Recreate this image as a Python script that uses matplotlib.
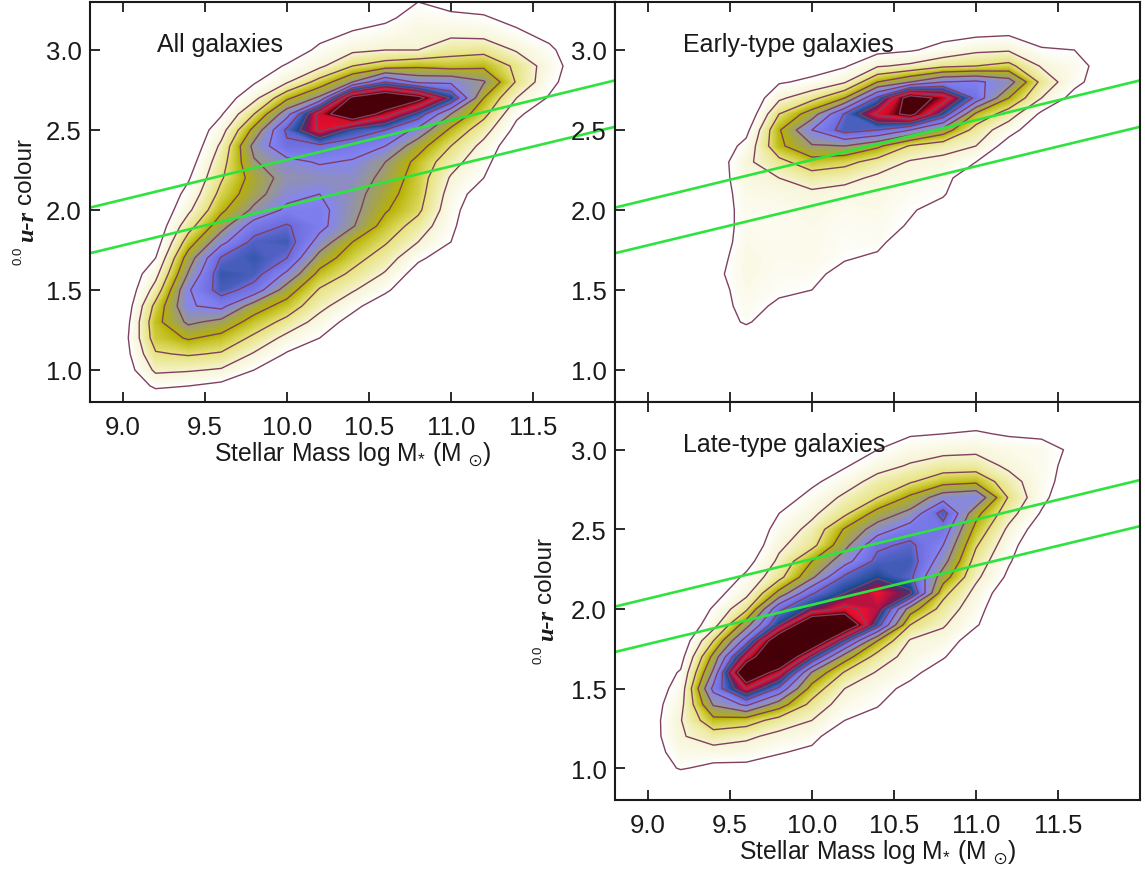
import numpy as np
import matplotlib
matplotlib.use("Agg")
import matplotlib.pyplot as plt
from matplotlib.colors import LinearSegmentedColormap
from matplotlib.ticker import FormatStrFormatter

plt.rcParams['font.family'] = ['Liberation Sans', 'DejaVu Sans']
plt.rcParams['mathtext.fontset'] = 'custom'
plt.rcParams['mathtext.rm'] = 'Liberation Sans'
plt.rcParams['mathtext.default'] = 'regular'

# ---- data ----
mass_grid = [8.8, 9.0, 9.2, 9.4, 9.6, 9.8, 10.0, 10.2, 10.4, 10.6, 10.8, 11.0, 11.2, 11.4, 11.6, 11.8, 12.0]
colour_grid = [0.8, 0.9, 1.0, 1.1, 1.2, 1.3, 1.4, 1.5, 1.6, 1.7, 1.8, 1.9, 2.0, 2.1, 2.2, 2.3, 2.4, 2.5,
               2.6, 2.7, 2.8, 2.9, 3.0, 3.1, 3.2, 3.3]
contour_levels = [1, 2, 3, 4, 5, 6, 7, 8, 9, 10]

# each column: (first colour value on the grid, density values going up in colour)
all_columns = [
    (0.8, []),
    (1.0, [.3, .45, .5, .3, .1]),
    (0.9, [1.2, 2.2, 2.9, 3.5, 3.7, 3.3, 2.4, 1.7, 1.0, .5, .2]),
    (0.8, [.2, 1.0, 2.1, 3.1, 4.1, 5.2, 5.9, 5.9, 5.1, 4.5, 3.5, 2.6, 1.8, 1.3, .9, .5, .1]),
    (0.9, [.7, 1.9, 2.9, 3.7, 4.7, 6.3, 7.4, 7.6, 7.1, 5.7, 4.6, 3.8, 3.3, 2.9, 2.6, 2.2, 1.6, .9, .4]),
    (1.0, [1.0, 1.9, 2.8, 3.6, 4.5, 6.6, 7.4, 7.6, 7.3, 6.5, 5.2, 4.6, 4.4, 4.9, 5.3, 4.3, 3.0, 1.7, .9, .4]),
    (1.1, [.9, 1.7, 2.7, 3.6, 4.5, 5.8, 7.0, 7.5, 7.1, 6.2, 5.7, 5.4, 5.7, 6.8, 7.2, 5.6, 3.8, 1.9, 1.1, .4]),
    (1.2, [1.0, 1.6, 2.3, 2.9, 3.7, 4.6, 5.6, 6.3, 6.3, 6.0, 5.5, 6.1, 6.8, 9.2, 9.4, 5.2, 3.4, 1.8, 1.2, .7, .3]),
    (1.3, [.6, 1.3, 2.1, 2.8, 3.4, 4.0, 5.1, 5.3, 5.4, 5.6, 5.9, 6.5, 7.6, 11.2, 10.4, 5.0, 3.0, 1.8, 1.1, .6, .2]),
    (1.4, [.3, 1.2, 1.9, 2.5, 3.1, 3.6, 4.1, 4.4, 4.7, 5.0, 6.0, 7.0, 9.5, 11.6, 7.0, 3.5, 2.0, 1.4, .8, .3]),
    (1.6, [.5, 1.2, 2.0, 2.6, 3.2, 3.4, 3.5, 3.7, 4.4, 5.7, 7.6, 10.5, 5.8, 3.8, 2.0, 1.7, 1.4, 1.0]),
    (1.7, [.4, 1.0, 1.2, 1.4, 1.6, 1.9, 2.4, 3.0, 3.8, 5.0, 7.9, 5.8, 3.6, 2.6, 1.8, 1.2, .7]),
    (2.1, [.4, 1.0, 1.3, 1.7, 2.4, 3.3, 4.0, 5.1, 3.8, 2.7, 1.7, 1.1, .6]),
    (2.4, [.2, .7, 1.2, 2.0, 2.9, 2.8, 1.9, 1.2, .7, .2]),
    (2.6, [.3, .9, 1.3, 1.5, 1.2, .7, .2]),
    (2.8, [.2, .3, .2]),
    (0.8, []),
]
early_columns = [
    (0.8, []),
    (0.8, []),
    (0.8, []),
    (1.3, [.1, .4, .5, .7, .5, .3, .3, .3, .3, .3, .3, .2]),
    (1.3, [1.2, 1.4, 1.5, 1.6, 1.6, 1.5, 1.4, 1.4, 1.5, 1.7, 1.8, 1.3, .7, .1]),
    (1.4, [.8, 1.2, 1.3, 1.4, 1.4, 1.4, 1.4, 1.6, 2.0, 2.7, 3.8, 3.9, 3.0, 1.8, .9, .3]),
    (1.5, [1.0, 1.3, 1.5, 1.5, 1.5, 1.6, 1.8, 2.5, 3.6, 4.9, 6.0, 4.5, 2.7, 1.2, .6, .1]),
    (1.6, [.6, 1.1, 1.2, 1.3, 1.4, 1.6, 2.3, 3.3, 5.0, 7.4, 7.1, 4.0, 1.9, .9, .3]),
    (1.7, [.8, 1.3, 1.4, 1.5, 1.6, 1.8, 2.6, 4.2, 7.0, 9.2, 7.2, 4.0, 1.9, .7, .2]),
    (1.8, [.2, .9, 1.1, 1.3, 1.5, 1.9, 2.9, 6.0, 10.4, 10.8, 5.0, 2.2, .9, .2]),
    (2.0, [.6, 1.1, 1.3, 1.7, 2.4, 4.6, 7.7, 9.6, 6.0, 2.8, 1.3, .7, .1]),
    (2.2, [.3, 1.0, 2.0, 2.6, 3.8, 6.7, 6.2, 3.0, 1.8, .8, .2]),
    (2.4, [.5, 1.4, 2.5, 4.0, 5.5, 3.3, 1.9, .9, .2]),
    (2.5, [.2, .8, 2.0, 2.7, 1.9, 1.1, .5]),
    (2.7, [.6, 1.3, 1.4, 1.0, .4]),
    (2.8, [.3, .5, .3]),
    (0.8, []),
]
late_columns = [
    (0.8, []),
    (1.0, [.3, .4, .4, .4, .4, .3, .2]),
    (1.0, [1.1, 1.5, 1.9, 1.95, 1.7, 1.4, 1.1, .6, .2]),
    (1.0, [.7, 1.6, 2.5, 3.7, 5.1, 6.3, 5.2, 4.3, 3.0, 1.6, 1.1, .6, .1]),
    (1.0, [.7, 1.5, 2.2, 3.5, 6.2, 9.0, 11.8, 9.0, 6.5, 4.6, 2.8, 1.7, 1.2, .6, .1]),
    (1.0, [.3, 1.1, 1.7, 2.6, 4.5, 6.8, 9.2, 12.5, 11.6, 8.0, 6.8, 4.3, 2.7, 2.2, 1.8, 1.4, 1.0, .5, .1]),
    (1.1, [.7, 1.4, 2.0, 2.7, 3.6, 4.9, 8.0, 12.0, 12.0, 8.2, 6.9, 4.8, 4.0, 2.7, 2.3, 1.8, 1.3, .8, .4]),
    (1.3, [1.0, 1.5, 2.0, 2.9, 4.5, 7.5, 11.8, 9.2, 8.0, 7.2, 5.6, 4.7, 4.1, 2.8, 2.2, 1.5, .9, .5, .2]),
    (1.3, [.5, 1.1, 1.4, 1.9, 2.6, 4.0, 7.5, 8.7, 9.0, 7.9, 7.3, 6.8, 5.5, 4.4, 3.0, 2.4, 1.6, 1.0, .5, .1]),
    (1.5, [.7, 1.3, 1.6, 1.9, 3.0, 4.5, 8.2, 7.2, 7.5, 7.2, 6.5, 5.3, 4.2, 2.9, 2.1, 1.5, .9, .3]),
    (1.6, [.4, 1.1, 1.6, 2.1, 2.6, 3.3, 4.5, 5.4, 6.0, 6.6, 7.4, 5.6, 3.6, 2.5, 1.7, 1.0, .5]),
    (1.8, [.4, 1.1, 1.4, 1.7, 2.2, 2.6, 3.1, 3.7, 4.3, 5.9, 3.8, 2.5, 1.8, 1.1, .6, .1]),
    (2.1, [.3, .8, 1.1, 1.4, 1.8, 2.4, 2.9, 2.4, 1.8, 1.5, .9, .5, .1]),
    (2.5, [.4, .9, 1.3, 1.4, 1.4, 1.4, .8, .2]),
    (2.8, [.4, .6, .8, .3]),
    (0.8, []),
    (0.8, []),
]

green_mass = [8.8, 12.0]
green_upper = [2.015, 2.81]
green_lower = [1.73, 2.52]

mass_ticks = [9.0, 9.5, 10.0, 10.5, 11.0, 11.5]
colour_ticks = [1.0, 1.5, 2.0, 2.5, 3.0]
panel_titles = ["All galaxies", "Early-type galaxies", "Late-type galaxies"]
x_label = r"Stellar Mass log M$_{*}$ (M $_{\odot}$)"


def density_grid(columns):
    grid = np.zeros((len(colour_grid), len(mass_grid)))
    for j, (start, values) in enumerate(columns):
        i0 = int(round((start - colour_grid[0]) * 10))
        grid[i0:i0 + len(values), j] = values
    return grid


stops = [(0.0, '#ffffff'), (1.0, '#ffffff'), (2.0, '#f6f4d4'), (3.0, '#e6e37c'), (4.0, '#b6b200'),
         (5.0, '#9a9a80'), (6.0, '#8484f4'), (7.0, '#6c6cdc'), (8.0, '#14488c'), (8.5, '#8a1450'),
         (9.0, '#f01030'), (9.6, '#c80c28'), (10.0, '#4c0008'), (13.0, '#400008')]
cmap = LinearSegmentedColormap.from_list('gal', [(v / 13.0, c) for v, c in stops], N=1024)

W, H = 1145, 870
fig = plt.figure(figsize=(W / 100, H / 100), dpi=100)


def make_axes(l, t, r, b):
    return fig.add_axes([l / W, 1 - b / H, (r - l) / W, (b - t) / H])


axes = [make_axes(90, 3, 615, 403), make_axes(615, 3, 1140, 403), make_axes(615, 403, 1140, 801)]
grids = [density_grid(all_columns), density_grid(early_columns), density_grid(late_columns)]
fill_levels = np.linspace(0, 13, 261)

for k, (ax, z) in enumerate(zip(axes, grids)):
    ax.contourf(mass_grid, colour_grid, z, levels=fill_levels, cmap=cmap, vmin=0, vmax=13,
                antialiased=False)
    ax.contour(mass_grid, colour_grid, z, levels=contour_levels, colors='#80405f', linewidths=1.0)
    ax.plot(green_mass, green_upper, color='#2fe33f', lw=1.9)
    ax.plot(green_mass, green_lower, color='#2fe33f', lw=1.9)
    ax.set_xlim(8.8, 12.0)
    ax.set_ylim(0.8, 3.3)
    ax.set_xticks(mass_ticks)
    ax.set_yticks(colour_ticks)
    ax.xaxis.set_major_formatter(FormatStrFormatter('%.1f'))
    ax.yaxis.set_major_formatter(FormatStrFormatter('%.1f'))
    ax.tick_params(axis='both', direction='in', length=7.5, width=1.3, labelsize=18.5, colors='#1a1a1a',
                   top=True, right=False)
    ax.tick_params(axis='x', pad=9.5)
    ax.tick_params(axis='y', pad=6)
    for s in ax.spines.values():
        s.set_linewidth(1.5)
        s.set_color('#1a1a1a')
    if k == 1:
        ax.tick_params(labelbottom=False)
    ax.text(0.127 if k == 0 else 0.129, 0.8655 if k < 2 else 0.864, panel_titles[k], transform=ax.transAxes,
            fontsize=18, color='#1a1a1a', va='bottom', ha='left')

for ax in (axes[0], axes[2]):
    ax.set_xlabel(x_label, fontsize=17.8, color='#1a1a1a', labelpad=0.5)

# y axis label pieces: (x px, y px) centres for the two labelled panels
for dx, dy in ((-520, -399), (0, 0)):
    fig.text((545 + dx) / W, 1 - (570 + dy) / H, "colour", rotation=90, fontsize=17.5,
             color='#1a1a1a', ha='center', va='center')
    fig.text((548 + dx) / W, 1 - (625 + dy) / H, "u-r", rotation=90, fontsize=17.5, family='Liberation Serif',
             style='italic', weight='bold', color='#1a1a1a', ha='center', va='center')
    fig.text((539 + dx) / W, 1 - (655 + dy) / H, "0.0", rotation=90, fontsize=9.5,
             color='#1a1a1a', ha='center', va='center')

fig.savefig('out.png', dpi=100)
